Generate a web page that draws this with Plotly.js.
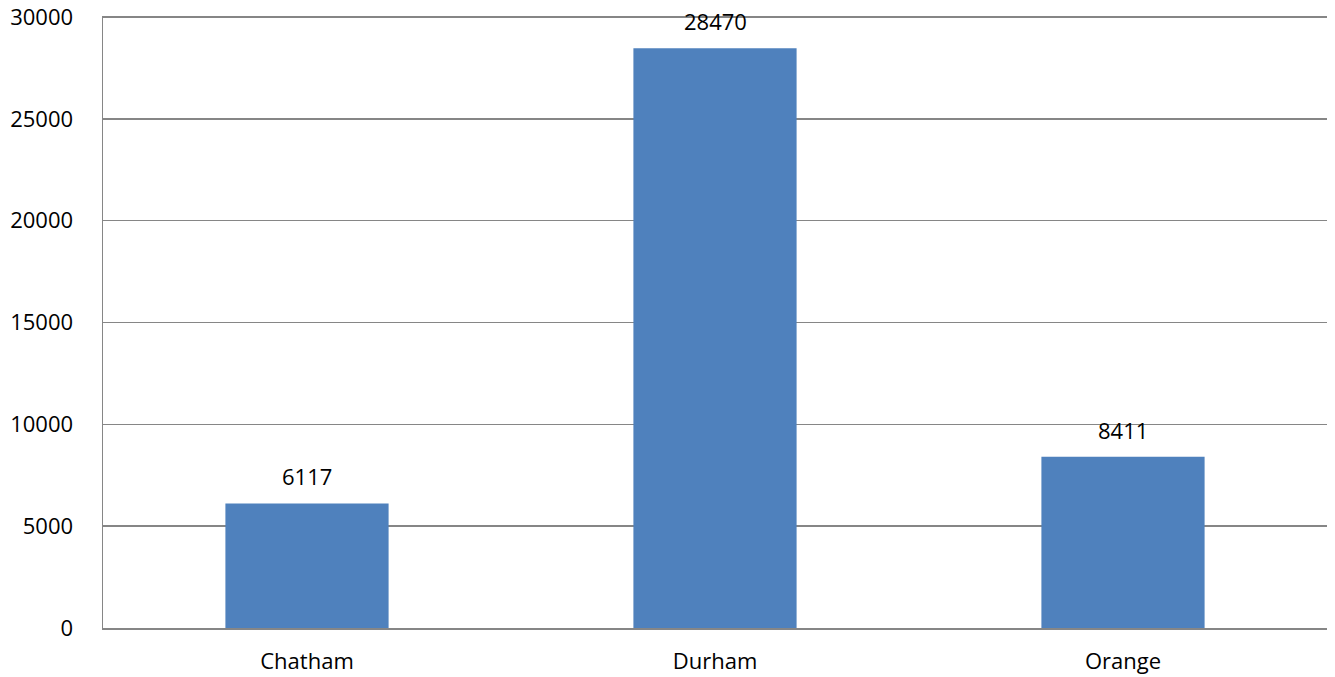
<!DOCTYPE html>
<html>
<head>
<meta charset="utf-8">
<script src="https://cdn.plot.ly/plotly-3.0.1.min.js"></script>
<style>html,body{margin:0;padding:0;background:#fff;}#chart{width:1335px;height:677px;}</style>
</head>
<body>
<div id="chart"></div>
<script>
const categories = ["Chatham", "Durham", "Orange"];
const values = [6117, 28470, 8411];
const yTicks = [0, 5000, 10000, 15000, 20000, 25000, 30000];

const fontFam = "Open Sans, Liberation Sans, sans-serif";
const gridColor = "#868686";

const trace = {
  type: "bar",
  x: categories,
  y: values,
  marker: {color: "#4F81BD", line: {width: 0}},
  hoverinfo: "none"
};

const annotations = categories.map((c, i) => ({
  x: c, y: values[i], text: String(values[i]),
  showarrow: false, yanchor: "middle", yshift: 27,
  font: {family: fontFam, size: 22, color: "#000"}
}));

const layout = {
  width: 1335, height: 677,
  margin: {l: 103, r: 8, t: 16, b: 49},
  paper_bgcolor: "#fff", plot_bgcolor: "#fff",
  bargap: 0.6,
  showlegend: false,
  xaxis: {
    type: "category",
    showgrid: false,
    showline: true, linecolor: gridColor, linewidth: 1.5,
    ticks: "", ticklabelstandoff: 13,
    tickfont: {family: fontFam, size: 22, color: "#000"},
    zeroline: false
  },
  yaxis: {
    range: [0, 30050],
    tickvals: yTicks,
    ticktext: yTicks.map(String),
    showgrid: true, gridcolor: gridColor, gridwidth: 1.5,
    showline: true, linecolor: gridColor, linewidth: 1.5,
    zeroline: false,
    ticks: "", ticklabelstandoff: 24,
    tickfont: {family: fontFam, size: 22, color: "#000"}
  },
  annotations: annotations
};

Plotly.newPlot("chart", [trace], layout, {displayModeBar: false, staticPlot: true});
</script>
</body>
</html>
